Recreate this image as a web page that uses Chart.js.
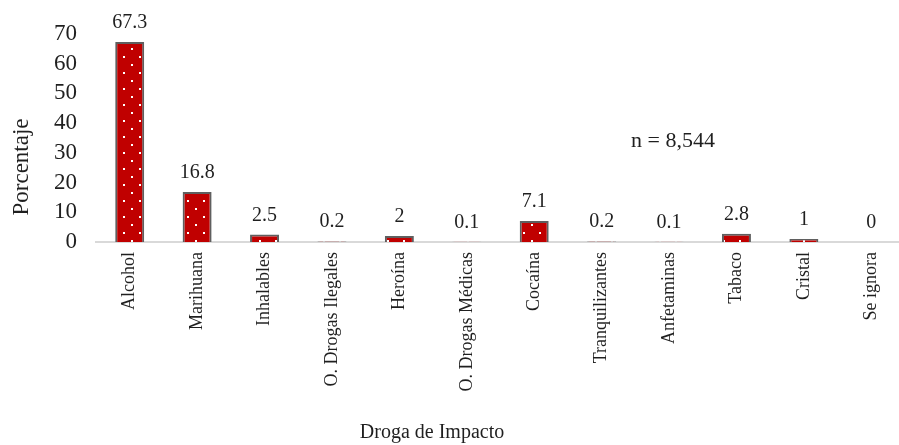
<!DOCTYPE html>
<html>
<head>
<meta charset="utf-8">
<script src="https://cdn.jsdelivr.net/npm/chart.js@4/dist/chart.umd.min.js"></script>
<style>
  html, body { margin: 0; padding: 0; background: #fff; overflow: hidden; }
  #wrap { width: 910px; height: 445px; }
</style>
</head>
<body>
<div id="wrap"><canvas id="myCanvas" width="910" height="445"></canvas></div>
<script>
let categorias = ["Alcohol", "Marihuana", "Inhalables", "O. Drogas Ilegales", "Heroína", "O. Drogas Médicas",
    "Cocaína", "Tranquilizantes", "Anfetaminas", "Tabaco", "Cristal", "Se ignora"];
let porcentajes = [67.3, 16.8, 2.5, 0.2, 2, 0.1, 7.1, 0.2, 0.1, 2.8, 1, 0];
let ticksY = [0, 10, 20, 30, 40, 50, 60, 70];
let tituloX = "Droga de Impacto";
let tituloY = "Porcentaje";
let nota = "n = 8,544";

let fuente = "'Liberation Serif', 'DejaVu Serif', serif";

// patron de puntos blancos sobre rojo
let tile = document.createElement("canvas");
tile.width = 16;
tile.height = 16;
let tctx = tile.getContext("2d");
tctx.fillStyle = "#C00000";
tctx.fillRect(0, 0, 16, 16);
tctx.fillStyle = "#ffffff";
tctx.fillRect(3, 0, 2, 2);
tctx.fillRect(11, 8, 2, 2);
let grafica = document.getElementById("myCanvas").getContext("2d");
let patron = grafica.createPattern(tile, "repeat");

let textos = {
    id: "textos",
    afterDatasetsDraw(chart) {
        let ctx = chart.ctx;
        ctx.save();
        ctx.fillStyle = "#1f1f1f";
        // etiquetas de datos
        ctx.font = "20px " + fuente;
        ctx.textAlign = "center";
        ctx.textBaseline = "alphabetic";
        chart.getDatasetMeta(0).data.forEach((bar, i) => {
            ctx.fillText(String(porcentajes[i]), bar.x, bar.y - 14);
        });
        // n
        ctx.font = "22px " + fuente;
        ctx.textBaseline = "middle";
        ctx.fillText(nota, 673, 141);
        // titulo x
        ctx.font = "20px " + fuente;
        ctx.fillText(tituloX, 432, 433);
        // titulo y
        ctx.translate(22, 167);
        ctx.rotate(-Math.PI / 2);
        ctx.font = "23px " + fuente;
        ctx.fillText(tituloY, 0, 0);
        ctx.restore();
    }
};

let myChart = new Chart(grafica, {
    type: "bar",
    data: {
        labels: categorias,
        datasets: [{
            label: "",
            data: porcentajes,
            backgroundColor: patron,
            borderColor: "#5f5f5f",
            borderWidth: 2,
            categoryPercentage: 1,
            barPercentage: 0.43
        }]
    },
    options: {
        responsive: false,
        animation: false,
        layout: { padding: { top: 34, right: 5, left: 0, bottom: 0 } },
        plugins: {
            legend: { display: false },
            tooltip: { enabled: false }
        },
        scales: {
            x: {
                grid: { display: false, drawTicks: false },
                border: { display: true, color: "#d9d9d9", width: 2 },
                ticks: {
                    autoSkip: false,
                    minRotation: 90,
                    maxRotation: 90,
                    padding: 10,
                    color: "#1f1f1f",
                    font: { family: fuente, size: 18 }
                },
                afterFit: (scale) => { scale.height = 203; }
            },
            y: {
                min: 0,
                max: 70,
                grid: { display: false, drawTicks: false },
                border: { display: false },
                afterBuildTicks: (scale) => { scale.ticks = ticksY.map(v => ({ value: v })); },
                ticks: {
                    autoSkip: false,
                    padding: 19,
                    color: "#1f1f1f",
                    font: { family: fuente, size: 23 }
                },
                afterFit: (scale) => { scale.width = 96; }
            }
        }
    },
    plugins: [textos]
});
</script>
</body>
</html>
